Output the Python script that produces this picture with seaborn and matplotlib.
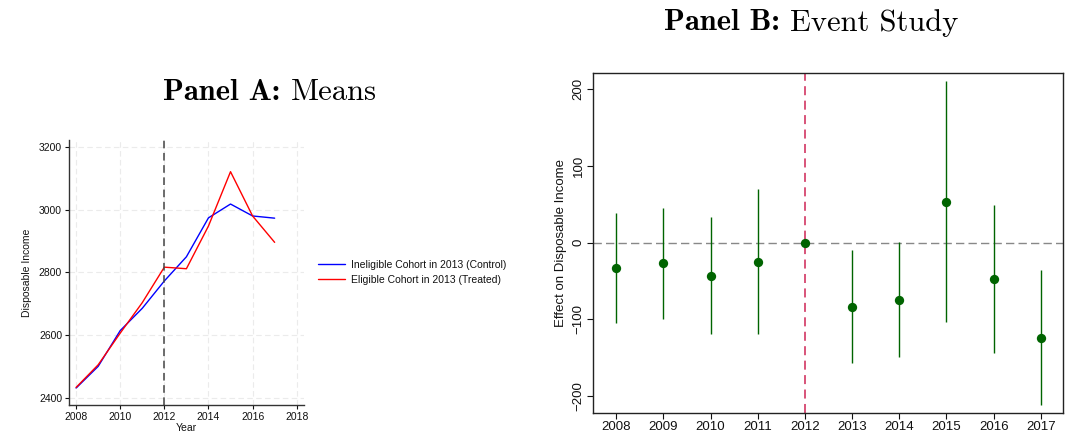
import matplotlib
matplotlib.use('Agg')
import matplotlib.pyplot as plt
import numpy as np
import pandas as pd
import seaborn as sns

years = [2008, 2009, 2010, 2011, 2012, 2013, 2014, 2015, 2016, 2017]
control_means = [2432, 2501, 2615, 2686, 2773, 2850, 2974, 3018, 2980, 2973]
treated_means = [2434, 2506, 2607, 2704, 2817, 2812, 2948, 3121, 2980, 2896]

coef = [-32.9, -27.2, -43.3, -25.0, 0.0, -83.4, -74.2, 53.3, -47.2, -123.8]
ci_low = [-104.2, -99.0, -119.0, -119.0, np.nan, -157.0, -149.5, -103.4, -143.4, -211.7]
ci_high = [38.5, 44.6, 32.9, 69.4, np.nan, -10.2, 1.0, 210.0, 49.0, -36.0]

sns.set_theme(style='white')
plt.rcParams['font.family'] = ['Liberation Sans', 'DejaVu Sans']
plt.rcParams['text.color'] = '#111111'
plt.rcParams['axes.labelcolor'] = '#111111'

fig = plt.figure(figsize=(10.67, 4.41), dpi=100)


def panel_title(fig, xc, yc, bold, rest, size):
    # bold part + roman part, centred as one line
    r = fig.canvas.get_renderer()
    t1 = fig.text(0, yc, bold, family='cmb10', fontsize=size, va='center', color='black')
    t2 = fig.text(0, yc, rest, family='cmr10', fontsize=size, va='center', color='black')
    w1 = t1.get_window_extent(r).width / fig.bbox.width
    w2 = t2.get_window_extent(r).width / fig.bbox.width
    x0 = xc - (w1 + w2) / 2
    t1.set_x(x0)
    t2.set_x(x0 + w1)


# Panel A
axA = fig.add_axes([0.0647, 0.0816, 0.2202, 0.601])
means = pd.DataFrame({
    'Year': years * 2,
    'Income': control_means + treated_means,
    'Group': ['Ineligible Cohort in 2013 (Control)'] * len(years)
             + ['Eligible Cohort in 2013 (Treated)'] * len(years),
})
sns.lineplot(data=means, x='Year', y='Income', hue='Group',
             palette=['#0000ff', '#ff0000'], linewidth=1, ax=axA)
axA.axvline(2012, color='#444444', linestyle=(0, (5, 3)), linewidth=1.1)
axA.set_xlim(2007.68, 2018.33)
axA.set_ylim(2378, 3222)
axA.set_xticks(range(2008, 2019, 2))
axA.set_yticks(range(2400, 3201, 200))
axA.grid(True, color='#ebebeb', linestyle=(0, (5, 3)), linewidth=0.8)
for s in ['top', 'right']:
    axA.spines[s].set_visible(False)
for s in ['left', 'bottom']:
    axA.spines[s].set_color('#333333')
    axA.spines[s].set_linewidth(1)
axA.tick_params(axis='both', labelsize=7.5, length=3, width=0.8,
                direction='out', bottom=True, left=True, pad=2, colors='#111111')
axA.set_xlabel('Year', fontsize=7.5, labelpad=1)
axA.set_ylabel('Disposable Income', fontsize=7.5, labelpad=5)
axA.legend(loc='center left', bbox_to_anchor=(1.02, 0.5), frameon=False,
           fontsize=7.5, handlelength=2.6, handletextpad=0.6, labelspacing=0.5)

# Panel B
axB = fig.add_axes([0.5558, 0.0635, 0.4405, 0.771])
es = pd.DataFrame({'Year': years, 'coef': coef, 'lo': ci_low, 'hi': ci_high})
axB.axhline(0, color='#888888', linestyle=(0, (6, 3)), linewidth=1)
axB.axvline(2012, color='#d6456e', linestyle=(0, (5, 3)), linewidth=1.3)
ci = es.dropna()
axB.vlines(ci['Year'], ci['lo'], ci['hi'], color='#006400', linewidth=1)
sns.scatterplot(data=es, x='Year', y='coef', color='#006400', s=45,
                edgecolor='#006400', linewidth=0, ax=axB, zorder=3)
axB.set_xlim(2007.51, 2017.47)
axB.set_ylim(-222, 221)
axB.set_xticks(years)
axB.set_yticks([-200, -100, 0, 100, 200])
for s in axB.spines.values():
    s.set_color('#222222')
    s.set_linewidth(1)
axB.tick_params(axis='both', labelsize=9.5, length=4, width=0.8,
                direction='out', bottom=True, left=True, pad=2, colors='#111111')
for lbl in axB.get_yticklabels():
    lbl.set_rotation(90)
    lbl.set_va('center')
axB.set_xlabel('')
axB.set_ylabel('Effect on Disposable Income', fontsize=9.5, labelpad=4)

panel_title(fig, 0.253, 0.79, 'Panel A: ', 'Means', 22)
panel_title(fig, 0.760, 0.948, 'Panel B: ', 'Event Study', 22)

fig.savefig('out.png', dpi=100)
plt.close(fig)
